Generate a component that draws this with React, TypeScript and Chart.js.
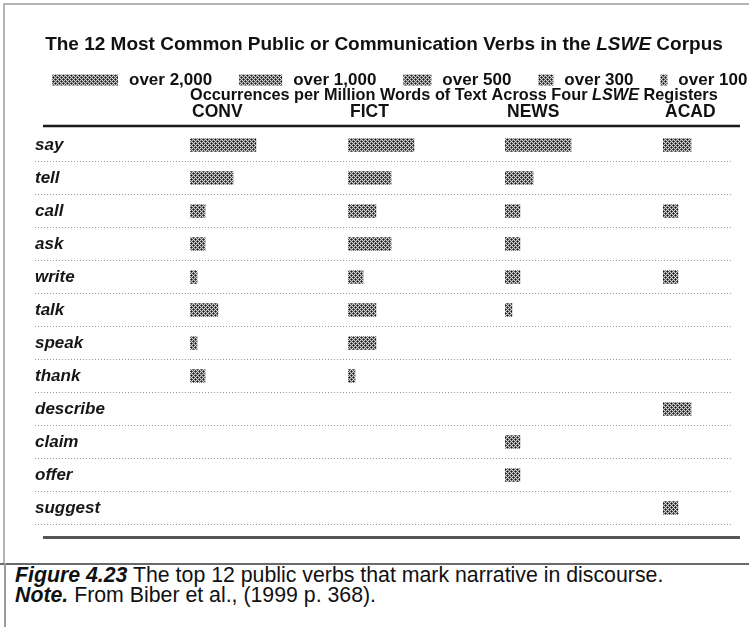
import React, { useEffect, useRef } from 'react';
import { Chart, registerables } from 'chart.js';

Chart.register(...registerables);

const FAMILY = '"Liberation Sans", Arial, Helvetica, sans-serif';

// ---------- data ----------
const verbs = ['say', 'tell', 'call', 'ask', 'write', 'talk', 'speak', 'thank', 'describe', 'claim', 'offer', 'suggest'];
const registers = ['CONV', 'FICT', 'NEWS', 'ACAD'];
// frequency band (occurrences per million words); 0 = below 100
const convValues = [2000, 1000, 300, 300, 100, 500, 100, 300, 0, 0, 0, 0];
const fictValues = [2000, 1000, 500, 1000, 300, 500, 500, 100, 0, 0, 0, 0];
const newsValues = [2000, 500, 300, 300, 300, 100, 0, 0, 0, 300, 300, 0];
const acadValues = [500, 0, 300, 0, 300, 0, 0, 0, 500, 0, 0, 300];
const registerValues = [convValues, fictValues, newsValues, acadValues];
const bands = [2000, 1000, 500, 300, 100];
const bandLabels = ['over 2,000', 'over 1,000', 'over 500', 'over 300', 'over 100'];

// ---------- visual encoding (symbol length per band) ----------
const BAR_LENGTH: Record<number, number> = { 2000: 66, 1000: 43, 500: 28, 300: 15, 100: 7 };
const COLUMN_WEIGHTS = [158, 157, 158, 69];

function makePattern(): CanvasPattern | string {
  const c = document.createElement('canvas');
  c.width = 4;
  c.height = 4;
  const g = c.getContext('2d');
  if (!g) return '#808080';
  g.fillStyle = '#d2d2d2';
  g.fillRect(0, 0, 4, 4);
  const dots = [[1, 1], [3, 3]];
  g.fillStyle = '#5c5c5c';
  dots.forEach(([x, y]) => {
    [[1, 0], [-1, 0], [0, 1], [0, -1]].forEach(([dx, dy]) => {
      g.fillRect((x + dx + 4) % 4, (y + dy + 4) % 4, 1, 1);
    });
  });
  g.fillStyle = '#141414';
  dots.forEach(([x, y]) => g.fillRect(x, y, 1, 1));
  const p = g.createPattern(c, 'repeat');
  return p || '#808080';
}

function font(size: number, weight = 'bold', style = 'normal') {
  return `${style} ${weight} ${size}px ${FAMILY}`;
}

type Part = { text: string; font: string };

function drawRich(ctx: CanvasRenderingContext2D, parts: Part[], x: number, y: number, align: 'left' | 'center') {
  let total = 0;
  const widths = parts.map((p) => {
    ctx.font = p.font;
    const w = ctx.measureText(p.text).width;
    total += w;
    return w;
  });
  let cx = align === 'center' ? x - total / 2 : x;
  ctx.textAlign = 'left';
  ctx.textBaseline = 'middle';
  parts.forEach((p, i) => {
    ctx.font = p.font;
    ctx.fillText(p.text, cx, y);
    cx += widths[i];
  });
  return total;
}

export default function App() {
  const ref = useRef<HTMLCanvasElement | null>(null);

  useEffect(() => {
    if (!ref.current) return;
    const pattern = makePattern();

    const overlay = {
      id: 'overlay',
      afterDraw(chart: any) {
        const ctx: CanvasRenderingContext2D = chart.ctx;
        const area = chart.chartArea;
        ctx.save();
        ctx.fillStyle = '#111';

        // title
        drawRich(
          ctx,
          [
            { text: 'The 12 Most Common Public or Communication Verbs in the ', font: font(19) },
            { text: 'LSWE', font: font(19, 'bold', 'italic') },
            { text: ' Corpus', font: font(19) },
          ],
          384,
          45,
          'center'
        );

        // legend
        let lx = 52;
        const ly = 80;
        bands.forEach((b, i) => {
          const len = BAR_LENGTH[b];
          ctx.fillStyle = pattern as any;
          ctx.fillRect(lx, ly - 5.5, len, 11);
          lx += len + 11;
          ctx.fillStyle = '#111';
          const w = drawRich(ctx, [{ text: bandLabels[i], font: font(17) }], lx, ly, 'left');
          lx += w + 27;
        });

        // subtitle
        const x0 = chart.scales['x0'];
        ctx.fillStyle = '#111';
        drawRich(
          ctx,
          [
            { text: 'Occurrences per Million Words of Text Across Four ', font: font(16.3) },
            { text: 'LSWE', font: font(16.3, 'bold', 'italic') },
            { text: ' Registers', font: font(16.3) },
          ],
          x0.left,
          area.top - 33,
          'left'
        );

        // column headers
        registers.forEach((r, i) => {
          const s = chart.scales['x' + i];
          drawRich(ctx, [{ text: r, font: font(17.5) }], s.left + 2, area.top - 16, 'left');
        });

        // rules
        ctx.strokeStyle = '#1a1a1a';
        ctx.lineWidth = 2.5;
        ctx.beginPath();
        ctx.moveTo(43, area.top - 2.5);
        ctx.lineTo(740, area.top - 2.5);
        ctx.stroke();
        ctx.strokeStyle = '#555';
        ctx.lineWidth = 3;
        ctx.beginPath();
        ctx.moveTo(43, area.bottom + 13);
        ctx.lineTo(740, area.bottom + 13);
        ctx.stroke();
        ctx.restore();
      },
    };

    const scales: any = {
      y: {
        type: 'category',
        position: 'left',
        offset: true,
        grid: {
          offset: true,
          color: (c: any) => (c.index === 0 ? 'rgba(0,0,0,0)' : '#9a9a9a'),
          lineWidth: 1,
          drawTicks: true,
          tickLength: 155,
          tickBorderDash: [1, 2],
        },
        border: { display: false, dash: [1, 2] },
        ticks: {
          crossAlign: 'far',
          autoSkip: false,
          padding: 0,
          color: '#161616',
          font: { family: FAMILY, size: 17, weight: 'bold', style: 'italic' },
        },
        afterFit: (s: any) => {
          s.width = 155;
        },
      },
    };
    COLUMN_WEIGHTS.forEach((w, i) => {
      scales['x' + i] = {
        type: 'linear',
        position: 'bottom',
        stack: 'registers',
        stackWeight: w,
        min: 0,
        max: w,
        display: false,
      };
    });

    const chart = new Chart(ref.current, {
      type: 'bar',
      data: {
        labels: verbs,
        datasets: registerValues.map((vals, i) => ({
          label: registers[i],
          data: vals.map((v) => (v ? BAR_LENGTH[v] : null)),
          xAxisID: 'x' + i,
          yAxisID: 'y',
          grouped: false,
          barThickness: 13,
          backgroundColor: pattern as any,
          borderWidth: 0,
        })),
      },
      options: {
        indexAxis: 'y',
        animation: false,
        responsive: false,
        maintainAspectRatio: false,
        devicePixelRatio: 1,
        layout: { padding: { left: 35, right: 17, top: 128.5, bottom: 35.5 } },
        plugins: { legend: { display: false }, tooltip: { enabled: false }, title: { display: false } },
        scales,
      } as any,
      plugins: [overlay],
    });
    return () => chart.destroy();
  }, []);

  return (
    <div style={{ position: 'fixed', left: 0, top: 0, width: 749, height: 627, background: '#fff', overflow: 'hidden' }}>
      <canvas ref={ref} width={749} height={560} style={{ position: 'absolute', left: 0, top: 0, display: 'block' }} />
      <div style={{ position: 'absolute', left: 3, top: 3, right: 0, height: 2, background: '#b4b4b4' }} />
      <div style={{ position: 'absolute', left: 3, top: 3, width: 2, height: 560, background: '#b4b4b4' }} />
      <div style={{ position: 'absolute', left: 0, top: 563, width: 749, height: 2, background: '#6a6a6a' }} />
      <div style={{ position: 'absolute', left: 4, top: 563, width: 2, height: 64, background: '#9a9a9a' }} />
      <div
        style={{
          position: 'absolute',
          left: 15,
          top: 565,
          fontFamily: FAMILY,
          fontSize: 21.3,
          lineHeight: '20px',
          color: '#111',
          whiteSpace: 'nowrap',
        }}
      >
        <div>
          <b>
            <i>Figure 4.23</i>
          </b>{' '}
          The top 12 public verbs that mark narrative in discourse.
        </div>
        <div>
          <b>
            <i>Note.</i>
          </b>{' '}
          From Biber et al., (1999 p. 368).
        </div>
      </div>
    </div>
  );
}
